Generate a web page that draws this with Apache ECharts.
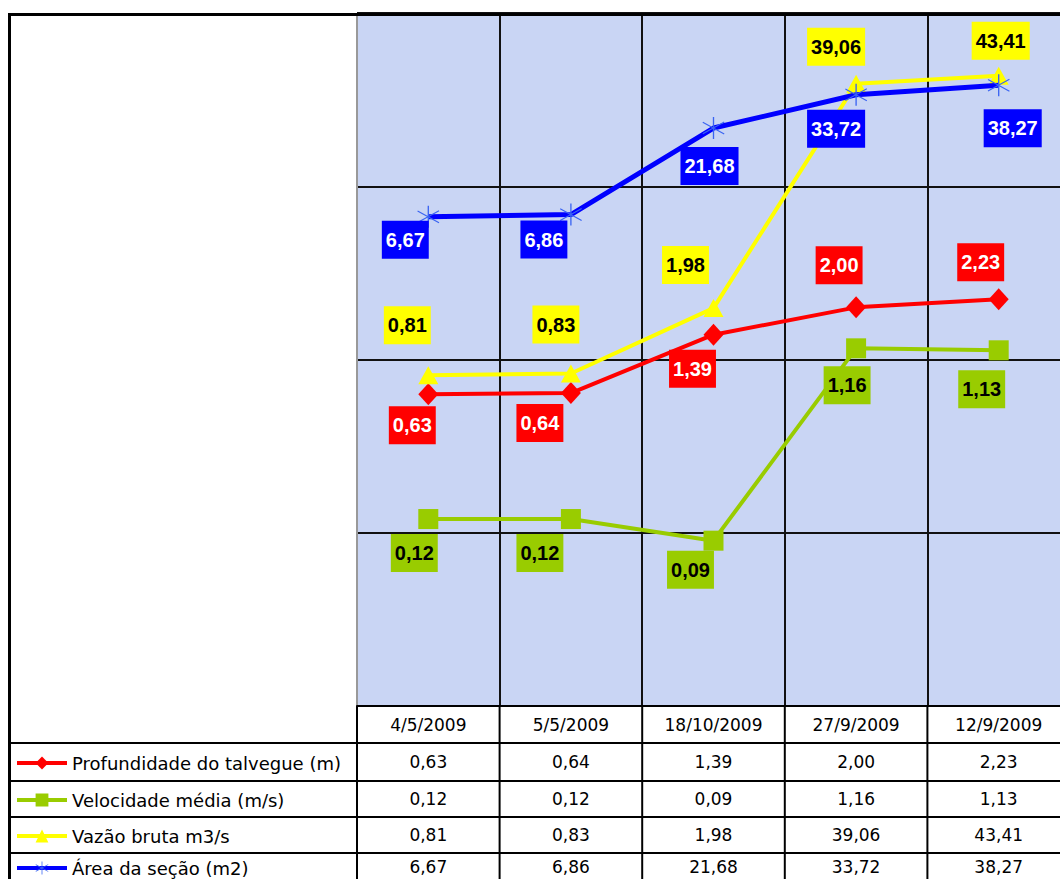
<!DOCTYPE html>
<html>
<head>
<meta charset="utf-8">
<script src="https://cdn.jsdelivr.net/npm/echarts@6/dist/echarts.min.js"></script>
<style>
html,body{margin:0;padding:0;background:#fff;overflow:hidden;width:1060px;height:879px;}
#chart{width:1080px;height:879px;}
</style>
</head>
<body>
<div id="chart"></div>
<script>
// ---- data ----
const categories = ['4/5/2009', '5/5/2009', '18/10/2009', '27/9/2009', '12/9/2009'];
const seriesNames = ['Profundidade do talvegue (m)', 'Velocidade média (m/s)', 'Vazão bruta m3/s', 'Área da seção (m2)'];
const profundidade = [0.63, 0.64, 1.39, 2.00, 2.23];
const velocidade = [0.12, 0.12, 0.09, 1.16, 1.13];
const vazao = [0.81, 0.83, 1.98, 39.06, 43.41];
const area = [6.67, 6.86, 21.68, 33.72, 38.27];

// ---- layout (label placement offsets, px) ----
const labelOffsets = [
  [[-16, 31], [-31, 30], [-21, 34], [-17, -42], [-18, -37]],
  [[-14, 34], [-31, 34], [-23, 29], [-9, 37], [-17, 39]],
  [[-21, -50], [-15, -49], [-28, -43], [-20, -37], [2, -35]],
  [[-23, 23], [-27, 25], [-4, 38], [-20, 34], [14, 43]]
];
const allValues = [profundidade, velocidade, vazao, area];

const fmt = v => v.toFixed(2).replace('.', ',');
const STAR = 'path://M9.4,0 L10.6,0 L10.6,20 L9.4,20 Z M0.6,4.3 L19.9,15 L19.4,15.9 L0.1,5.2 Z M0.1,14.8 L19.4,4.1 L19.9,5 L0.6,15.7 Z';

const styles = [
  {line: '#ff0000', item: '#ff0000', symbol: 'diamond', size: [20, 22], lw: 4, bg: '#ff0000', fg: '#ffffff'},
  {line: '#99cc00', item: '#99cc00', symbol: 'rect', size: 20, lw: 4, bg: '#99cc00', fg: '#000000'},
  {line: '#ffff00', item: '#ffff00', symbol: 'triangle', size: [20, 18], lw: 4, bg: '#ffff00', fg: '#000000'},
  {line: '#0000ff', item: '#3a64f2', symbol: STAR, size: 22, lw: 5, bg: '#0000ff', fg: '#ffffff'}
];

const FONT = 'DejaVu Sans';
const gridLeft = 357, gridTop = 13, gridWidth = 713, gridHeight = 693;
const rowCenters = [762, 799, 835, 867];
const rowLines = [743, 781, 817, 853];
const RIGHT = 1080;

const chart = echarts.init(document.getElementById('chart'), null, {renderer: 'svg'});

const series = allValues.map((vals, s) => ({
  name: seriesNames[s],
  type: 'line',
  data: vals.map((v, i) => ({value: v, label: {offset: labelOffsets[s][i]}})),
  symbol: styles[s].symbol,
  symbolSize: styles[s].size,
  lineStyle: {color: styles[s].line, width: styles[s].lw},
  itemStyle: {color: styles[s].item},
  z: 2 + s,
  label: {
    show: true,
    position: 'inside',
    formatter: p => fmt(p.value),
    fontFamily: 'Arial',
    fontWeight: 'bold',
    fontSize: 20,
    lineHeight: 20,
    color: styles[s].fg,
    backgroundColor: styles[s].bg,
    padding: [9, 4]
  },
  emphasis: {disabled: true}
}));

const legends = seriesNames.map((n, s) => ({
  data: [n],
  left: 15,
  top: rowCenters[s] - 8,
  padding: 0,
  itemWidth: 50,
  itemHeight: 16,
  selectedMode: false,
  lineStyle: {width: 4},
  textStyle: {fontFamily: FONT, fontSize: 18, color: '#000'}
}));

chart.setOption({
  animation: false,
  backgroundColor: '#ffffff',
  grid: {
    left: gridLeft, top: gridTop, width: gridWidth, height: gridHeight,
    show: true, backgroundColor: '#c9d5f4', borderWidth: 0
  },
  legend: legends,
  xAxis: {
    type: 'category',
    data: categories,
    boundaryGap: true,
    axisLine: {show: true, lineStyle: {color: '#000', width: 2}},
    axisTick: {show: false},
    axisLabel: {fontFamily: FONT, fontSize: 17, color: '#000', margin: 10},
    splitLine: {show: true, lineStyle: {color: ['#999', '#111', '#111', '#111', '#111'], width: 2}}
  },
  yAxis: {
    type: 'log',
    logBase: 10,
    min: 0.01,
    max: 100,
    axisLine: {show: false},
    axisTick: {show: false},
    axisLabel: {show: false},
    splitLine: {show: true, lineStyle: {color: '#111', width: 2}}
  },
  series: series
});

// ---- data table (lines + values) ----
const colX = categories.map((c, i) => chart.convertToPixel({xAxisIndex: 0}, i));
const catW = gridWidth / categories.length;
const graphics = [];
rowLines.forEach(y => graphics.push({type: 'line', z: 50, shape: {x1: 10, y1: y, x2: RIGHT, y2: y}, style: {stroke: '#000', lineWidth: 2}}));
for (let i = 0; i < categories.length; i++) {
  const x = colX[i] - catW / 2;
  graphics.push({type: 'line', z: 50, shape: {x1: x, y1: 706, x2: x, y2: 879}, style: {stroke: '#000', lineWidth: 2}});
}
allValues.forEach((vals, s) => {
  vals.forEach((v, i) => {
    graphics.push({
      type: 'text', z: 60, x: colX[i], y: rowCenters[s],
      style: {text: fmt(v), font: '17px "' + FONT + '"', fill: '#000', textAlign: 'center', verticalAlign: 'middle'}
    });
  });
});
graphics.push({type: 'line', z: 70, shape: {x1: 8, y1: 14.5, x2: RIGHT, y2: 14.5}, style: {stroke: '#000', lineWidth: 3}});
graphics.push({type: 'line', z: 70, shape: {x1: 9.5, y1: 13, x2: 9.5, y2: 879}, style: {stroke: '#000', lineWidth: 3}});

chart.setOption({graphic: graphics});
</script>
</body>
</html>
